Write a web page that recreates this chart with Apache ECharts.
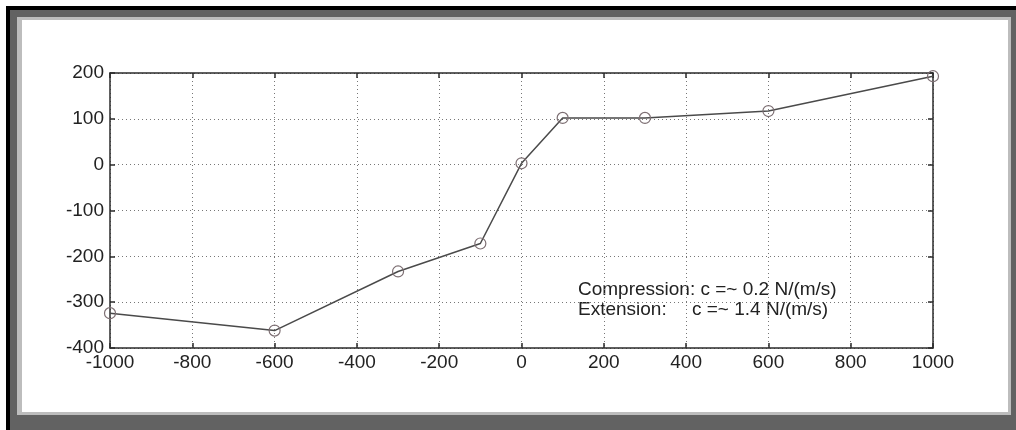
<!DOCTYPE html>
<html lang="en">
<head>
    <meta charset="UTF-8">
    <title>Damper force vs velocity</title>
    <script src="https://cdn.jsdelivr.net/npm/echarts@6.0.0/dist/echarts.min.js"></script>
    <style>
        body { margin: 0; background: #fff; }
        #frame { position: absolute; left: 6px; top: 6px; width: 1006px; height: 420px;
                 border-top: 4px solid #000; border-left: 4px solid #000; background: #626262; }
        #bevel { position: absolute; left: 17px; top: 17px; width: 994px; height: 398px; background: #bdbdbd; }
        #paper { position: absolute; left: 22px; top: 20px; width: 986px; height: 392px; background: #fff; }
        #main { position: absolute; left: 0; top: 0; width: 1016px; height: 430px; }
    </style>
</head>
<body>
    <div id="frame"></div>
    <div id="bevel"></div>
    <div id="paper"></div>
    <div id="main"></div>

    <script>
        // velocity (mm/s) and force readings
        var velocity = [-1000, -600, -300, -100, 0, 100, 300, 600, 1000];
        var force = [-324, -362, -233, -172, 3, 102, 102, 117, 193];

        var xTicks = [-1000, 1000, 200];   // min, max, step
        var yTicks = [-400, 200, 100];

        var font = 'Liberation Sans, Arial, sans-serif';
        var ink = '#2b2b2b';

        var myChart = echarts.init(document.getElementById('main'));

        function axisBase(range, showLabel) {
            return {
                min: range[0], max: range[1], interval: range[2],
                axisLine: { show: true, onZero: false, lineStyle: { color: ink, width: 1.5 } },
                axisTick: { show: true, inside: true, length: 5, lineStyle: { color: ink, width: 1.5 } },
                axisLabel: {
                    show: showLabel, color: '#222', fontSize: 19, fontFamily: font,
                    formatter: function (v) { return String(v); }
                },
                splitLine: { show: false }
            };
        }

        var xBottom = axisBase(xTicks, true);
        xBottom.type = 'value';
        xBottom.position = 'bottom';
        xBottom.axisLabel.margin = 5;
        xBottom.splitLine = { show: true, lineStyle: { type: [1, 3], color: '#777', width: 1 } };

        var xTop = axisBase(xTicks, false);
        xTop.type = 'value';
        xTop.position = 'top';

        var yLeft = axisBase(yTicks, true);
        yLeft.type = 'value';
        yLeft.position = 'left';
        yLeft.axisLabel.margin = 6;
        yLeft.splitLine = { show: true, lineStyle: { type: [1, 3], color: '#777', width: 1 } };

        var yRight = axisBase(yTicks, false);
        yRight.type = 'value';
        yRight.position = 'right';

        myChart.setOption({
            animation: false,
            grid: { left: 110, top: 73, right: 83, bottom: 82, containLabel: false },
            xAxis: [xBottom, xTop],
            yAxis: [yLeft, yRight],
            series: [{
                type: 'line',
                data: velocity.map(function (v, i) { return [v, force[i]]; }),
                symbol: 'circle',
                symbolSize: 11,
                clip: false,
                lineStyle: { color: '#4a4a4a', width: 1.5 },
                itemStyle: { color: 'rgba(0,0,0,0)', borderColor: '#7d6f73', borderWidth: 1.2 },
                z: 5
            }],
            graphic: [
                { type: 'text', left: 578, top: 280,
                  style: { text: 'Compression: c =~ 0.2 N/(m/s)', font: '19px ' + font, fill: '#222' } },
                { type: 'text', left: 578, top: 300,
                  style: { text: 'Extension:', font: '19px ' + font, fill: '#222' } },
                { type: 'text', left: 692, top: 300,
                  style: { text: 'c =~ 1.4 N/(m/s)', font: '19px ' + font, fill: '#222' } }
            ]
        });
    </script>
</body>
</html>
